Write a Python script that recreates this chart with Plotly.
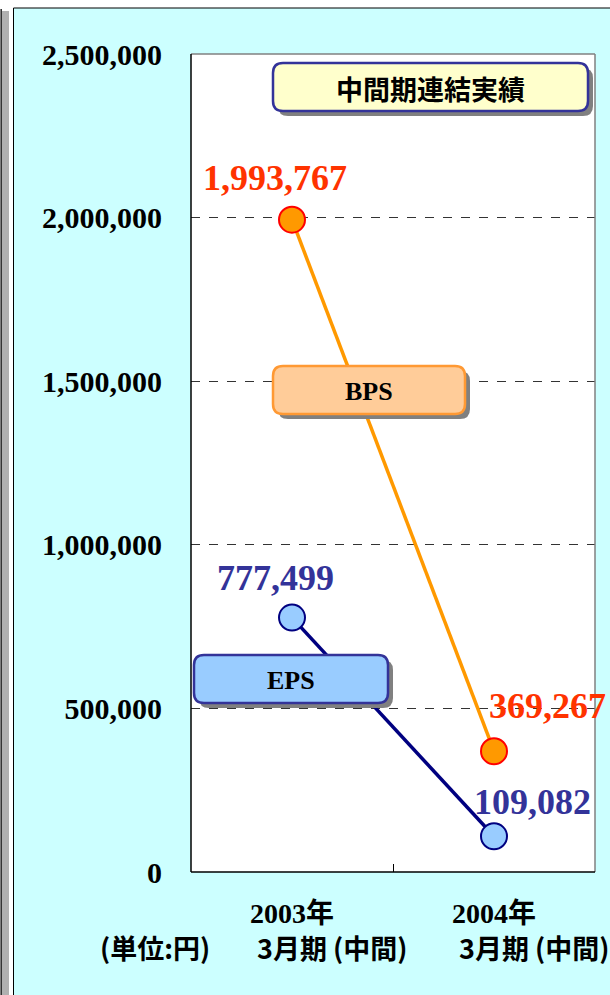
import plotly.graph_objects as go

# ---- data ----
categories = ["2003年3月期(中間)", "2004年3月期(中間)"]
tick_line1 = ["2003年", "2004年"]
tick_line2 = ["3月期 (中間)", "3月期 (中間)"]
bps_values = [1993767, 369267]
eps_values = [777499, 109082]
y_tickvals = [0, 500000, 1000000, 1500000, 2000000, 2500000]
title_text = "中間期連結実績"
unit_text = "(単位:円)"

W, H = 610, 995
ML, MR, MT, MB = 191, 15, 54, 123
PW = W - ML - MR
PH = H - MT - MB


def px(x):
    return (x - ML) / PW


def py(y):
    return (H - MB - y) / PH


def rrect(x0, y0, x1, y1, r):
    rx, ry = r / PW, r / PH
    X0, X1 = px(x0), px(x1)
    Y0, Y1 = py(y0), py(y1)  # Y0 top (larger), Y1 bottom
    return (f"M{X0+rx},{Y0} L{X1-rx},{Y0} Q{X1},{Y0} {X1},{Y0-ry} "
            f"L{X1},{Y1+ry} Q{X1},{Y1} {X1-rx},{Y1} L{X0+rx},{Y1} "
            f"Q{X0},{Y1} {X0},{Y1+ry} L{X0},{Y0-ry} Q{X0},{Y0} {X0+rx},{Y0} Z")


SERIF = "Liberation Serif, Noto Sans CJK JP"
SANS = "Noto Sans CJK JP, Liberation Sans"

fig = go.Figure()
fig.add_trace(go.Scatter(
    x=categories, y=bps_values, mode="lines+markers", name="BPS",
    line=dict(color="#FF9900", width=3.5),
    marker=dict(size=26, color="#FF9900", line=dict(color="#FF0000", width=2)),
    hoverinfo="skip"))
fig.add_trace(go.Scatter(
    x=categories, y=eps_values, mode="lines+markers", name="EPS",
    line=dict(color="#000080", width=3.5),
    marker=dict(size=26, color="#99CCFF", line=dict(color="#000080", width=2)),
    hoverinfo="skip"))

shapes = []
# outer panel + left strip
shapes.append(dict(type="rect", xref="paper", yref="paper", x0=px(0.5), x1=px(1.8),
                   y0=py(1000), y1=py(9), fillcolor="#000000", line=dict(width=0), layer="below"))
shapes.append(dict(type="rect", xref="paper", yref="paper", x0=px(2), x1=px(9),
                   y0=py(1000), y1=py(11), fillcolor="#B0B0B0", line=dict(width=0), layer="below"))
shapes.append(dict(type="rect", xref="paper", yref="paper", x0=px(13.5), x1=px(620),
                   y0=py(1000), y1=py(8), fillcolor="#CCFFFF",
                   line=dict(color="#000000", width=1), layer="below"))
shapes.append(dict(type="rect", xref="paper", yref="paper", x0=0, x1=1, y0=0, y1=1,
                   fillcolor="#FFFFFF", line=dict(width=0), layer="below"))
# plot border
shapes.append(dict(type="line", xref="paper", yref="paper", x0=0, x1=1, y0=1, y1=1,
                   line=dict(color="#808080", width=1.5), layer="above"))
shapes.append(dict(type="line", xref="paper", yref="paper", x0=1, x1=1, y0=0, y1=1,
                   line=dict(color="#808080", width=1.5), layer="above"))
shapes.append(dict(type="line", xref="paper", yref="paper", x0=0, x1=0, y0=0, y1=1,
                   line=dict(color="#000000", width=1.5), layer="above"))
shapes.append(dict(type="line", xref="paper", yref="paper", x0=0, x1=1, y0=0, y1=0,
                   line=dict(color="#000000", width=1.5), layer="above"))


def add_box(x0, y0, x1, y1, fill, border, shadow=5):
    shapes.append(dict(type="path", xref="paper", yref="paper",
                       path=rrect(x0 + shadow, y0 + shadow, x1 + shadow, y1 + shadow, 10),
                       fillcolor="#808080", line=dict(width=0), layer="above"))
    shapes.append(dict(type="path", xref="paper", yref="paper",
                       path=rrect(x0, y0, x1, y1, 10),
                       fillcolor=fill, line=dict(color=border, width=2.5), layer="above"))


add_box(273, 63, 588, 111, "#FFFFCC", "#333399")
add_box(273, 366, 465, 414, "#FFCC99", "#FF9933")
add_box(194, 655, 388, 703, "#99CCFF", "#333399")

annotations = []


def label(x, y, text, family, size, color="#000000"):
    annotations.append(dict(xref="paper", yref="paper", x=px(x), y=py(y), text=text,
                            xanchor="center", yanchor="middle", showarrow=False,
                            font=dict(family=family, size=size, color=color, weight="bold")))


label(430, 88, title_text, SANS, 27)
label(369, 391, "BPS", SERIF, 26)
label(291, 680, "EPS", SERIF, 26)
label(155, 947, unit_text, SANS, 27)

# second line of category labels
for c, t in zip(categories, tick_line2):
    annotations.append(dict(x=c, xref="x", y=py(947), yref="paper", text=t, showarrow=False,
                            xshift=40, xanchor="center", yanchor="middle",
                            font=dict(family=SANS, size=27, color="#000000", weight="bold")))

# data labels
bps_shift = [(-17, 42), (53, 45)]
eps_shift = [(-17, 40), (38, 34)]
for c, v, (dx, dy) in zip(categories, bps_values, bps_shift):
    annotations.append(dict(x=c, y=v, xref="x", yref="y", text=f"{v:,}", showarrow=False,
                            xshift=dx, yshift=dy, xanchor="center", yanchor="middle",
                            font=dict(family=SERIF, size=36, color="#FF3300", weight="bold")))
for c, v, (dx, dy) in zip(categories, eps_values, eps_shift):
    annotations.append(dict(x=c, y=v, xref="x", yref="y", text=f"{v:,}", showarrow=False,
                            xshift=dx, yshift=dy, xanchor="center", yanchor="middle",
                            font=dict(family=SERIF, size=36, color="#333399", weight="bold")))

fig.update_layout(
    width=W, height=H,
    margin=dict(l=ML, r=MR, t=MT, b=MB, pad=0, autoexpand=False),
    paper_bgcolor="#FFFFFF", plot_bgcolor="rgba(0,0,0,0)",
    showlegend=False,
    shapes=shapes, annotations=annotations,
    xaxis=dict(type="category", range=[-0.5, 1.5], tickmode="array",
               tickvals=categories, ticktext=tick_line1, tickson="boundaries",
               ticks="inside", ticklen=8, tickcolor="#000000", tickwidth=1,
               showgrid=False, showline=False, zeroline=False, automargin=False,
               tickangle=0, ticklabelstandoff=22,
               tickfont=dict(family=SERIF, size=28, color="#000000", weight="bold")),
    yaxis=dict(range=[0, 2500000], tickvals=y_tickvals, tickformat=",",
               showgrid=True, gridcolor="#333333", gridwidth=1, griddash="dash",
               showline=False, zeroline=False, ticks="", automargin=False,
               ticklabelstandoff=28,
               tickfont=dict(family=SERIF, size=30, color="#000000", weight="bold")),
)

fig.write_html("out.html", config={"displayModeBar": False},
               post_script="document.body.style.margin='0';document.body.style.overflow='hidden';")
